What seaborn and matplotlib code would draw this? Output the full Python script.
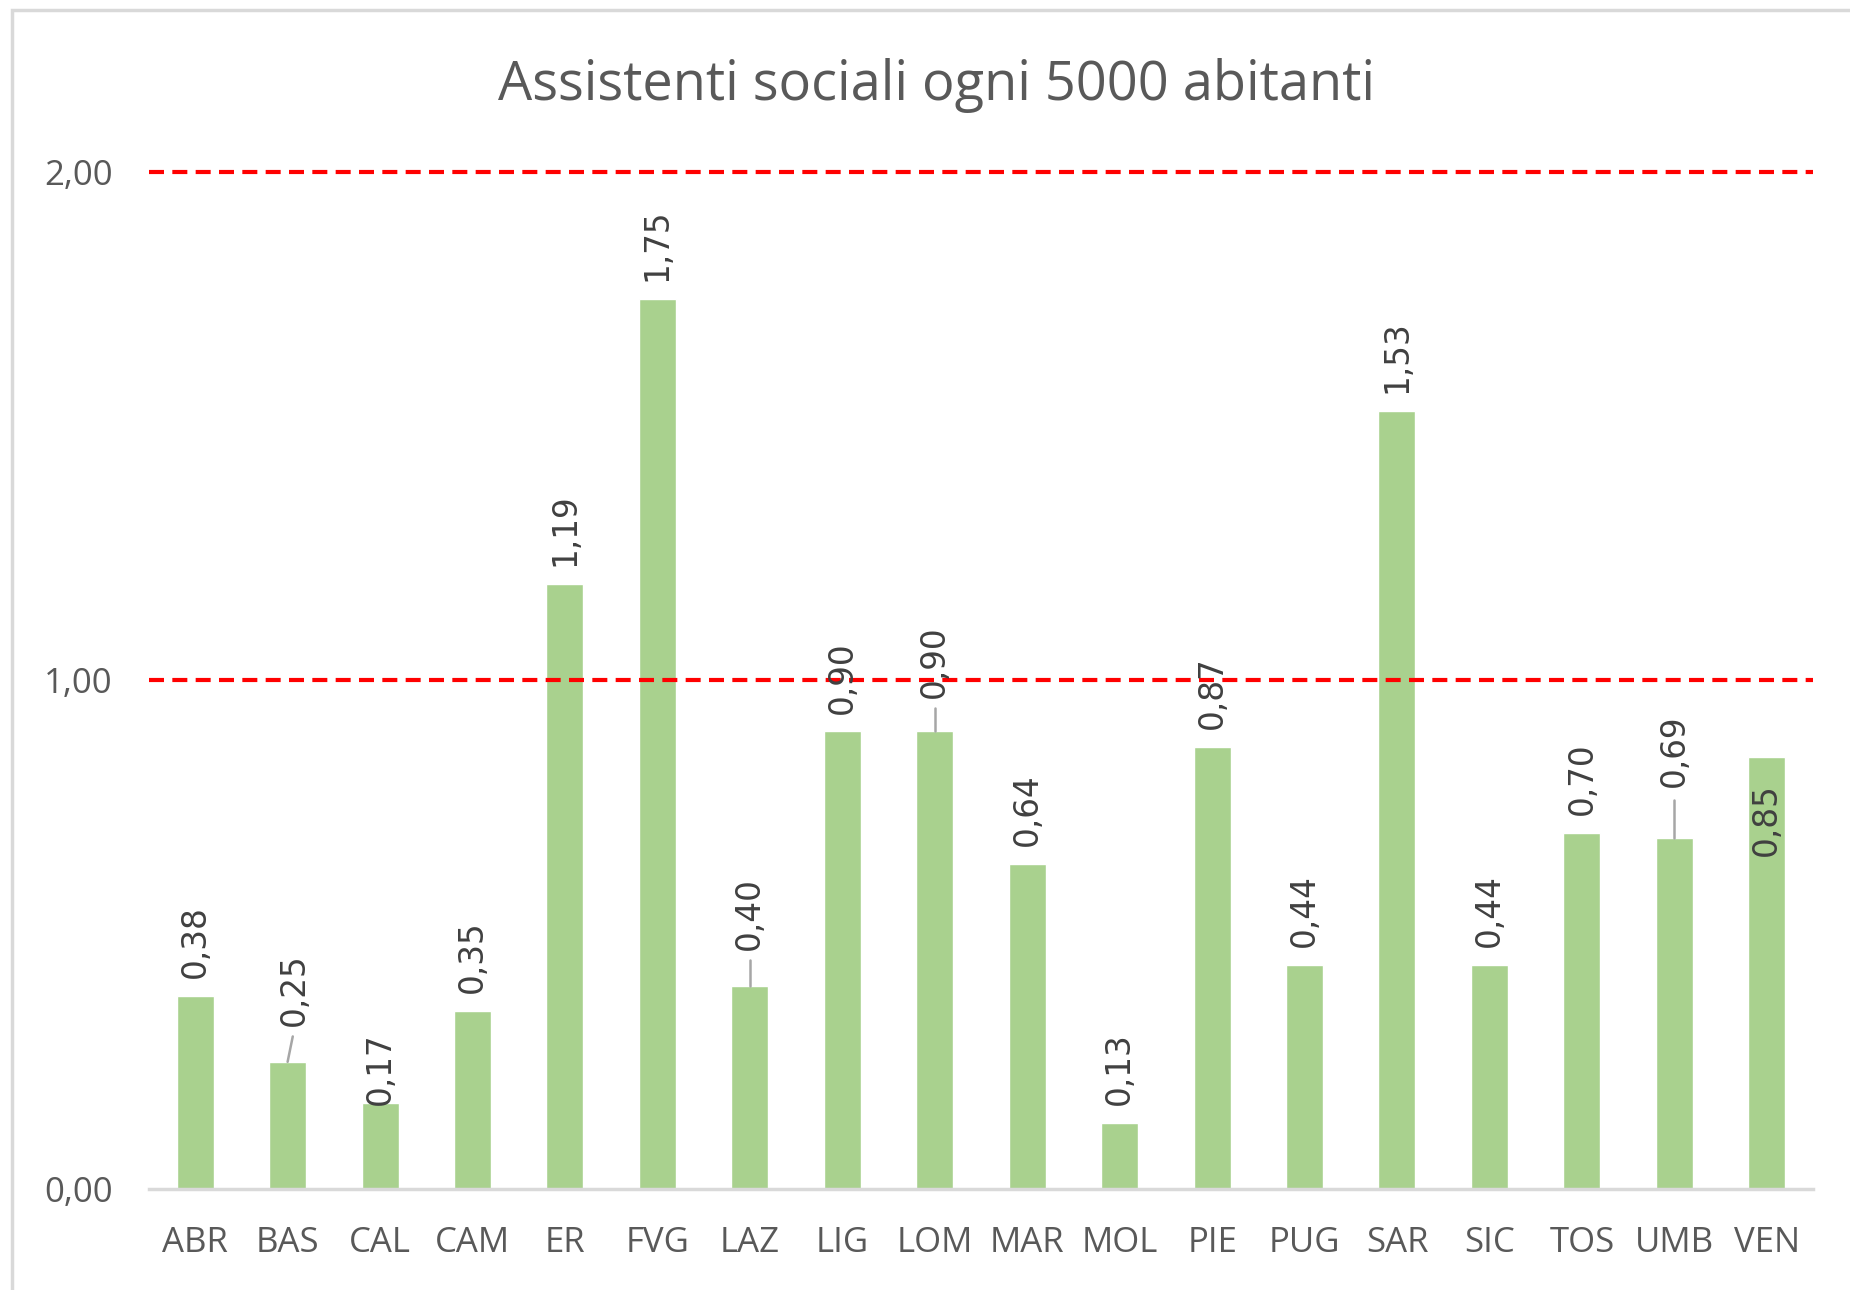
import matplotlib
matplotlib.use("Agg")
import matplotlib.pyplot as plt
from matplotlib.patches import Rectangle
import seaborn as sns
import pandas as pd

# data
regioni = ["ABR", "BAS", "CAL", "CAM", "ER", "FVG", "LAZ", "LIG", "LOM",
           "MAR", "MOL", "PIE", "PUG", "SAR", "SIC", "TOS", "UMB", "VEN"]
valori = [0.38, 0.25, 0.17, 0.35, 1.19, 1.75, 0.40, 0.90, 0.90,
          0.64, 0.13, 0.87, 0.44, 1.53, 0.44, 0.70, 0.69, 0.85]
y_ticks = [0.0, 1.0, 2.0]
soglie = [1.0, 2.0]
titolo = "Assistenti sociali ogni 5000 abitanti"

# label placement: gap above the bar (data units), and a few labels that
# Excel moved around (with leader lines)
gap_label = 0.035
label_pos = {"BAS": (0.07, 0.32), "CAL": (0.0, 0.165), "LAZ": (0.0, 0.47),
             "LOM": (0.0, 0.965), "UMB": (0.0, 0.79), "VEN": (0.0, 0.655)}
leader = {"BAS": 0.30, "LAZ": 0.45, "LOM": 0.945, "UMB": 0.765}

df = pd.DataFrame({"regione": regioni, "valore": valori})

sns.set_style("white")
plt.rcParams["font.family"] = ["Open Sans", "DejaVu Sans"]

fig = plt.figure(figsize=(18.5, 12.9), dpi=100)
ax = fig.add_axes([0.0805, 0.0783, 0.8995, 0.7884])

sns.barplot(data=df, x="regione", y="valore", color="#A9D18E",
            saturation=1, width=0.4, ax=ax, zorder=2)

for s in soglie:
    ax.axhline(s, color="#FF0000", lw=3.0, dashes=(3.6, 2.0), zorder=3,
               clip_on=False)

for i, (reg, v) in enumerate(zip(regioni, valori)):
    dx, y = label_pos.get(reg, (0.0, v + gap_label))
    if reg in leader:
        ax.plot([i, i + dx * 0.8], [v, leader[reg]], color="#A6A6A6",
                lw=1.8, zorder=4)
    ax.text(i + dx, y, f"{v:.2f}".replace(".", ","), rotation=90,
            ha="center", va="bottom", fontsize=23.5, color="#404040",
            family="DejaVu Sans", zorder=5)

ax.set_xlim(-0.5, len(regioni) - 0.5)
ax.set_ylim(0, 2.0)
ax.set_yticks(y_ticks)
ax.set_yticklabels([f"{t:.2f}".replace(".", ",") for t in y_ticks])
ax.set_xlabel("")
ax.set_ylabel("")
ax.tick_params(axis="both", length=0, labelsize=25, labelcolor="#595959")
ax.tick_params(axis="x", pad=27)
ax.tick_params(axis="y", pad=26)

for side in ["top", "right", "left"]:
    ax.spines[side].set_visible(False)
ax.spines["bottom"].set_color("#D9D9D9")
ax.spines["bottom"].set_linewidth(2.5)

fig.text(0.506, 0.934, titolo, ha="center", va="center", fontsize=39,
         color="#595959")

# thin grey chart-area border
fig.patches.append(Rectangle((12 / 1850, -0.01), 1.0, 1 - 10 / 1290 + 0.01,
                             transform=fig.transFigure, fill=False,
                             edgecolor="#D9D9D9", lw=2.5))

fig.savefig("out.png", dpi=100)
